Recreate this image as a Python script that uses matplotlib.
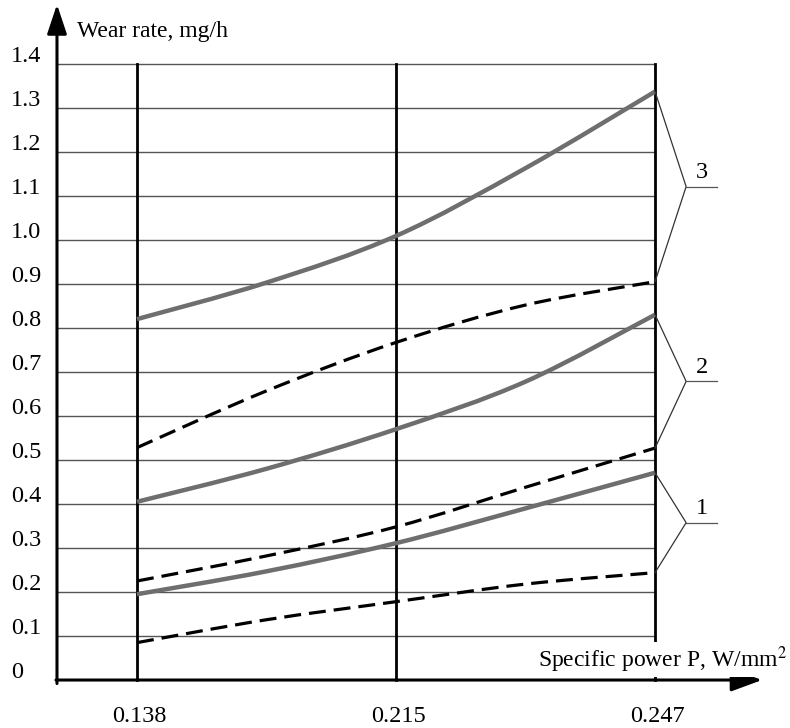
import matplotlib
matplotlib.use('Agg')
import matplotlib.pyplot as plt
from matplotlib.path import Path
from matplotlib.patches import PathPatch

plt.rcParams['font.family'] = ['Liberation Serif', 'DejaVu Serif']
plt.rcParams['mathtext.fontset'] = 'stix'

# x categories (equally spaced on the chart, not to scale)
p_labels = ['0.138', '0.215', '0.247']
pos = [0, 0.5, 1, 1.5, 2]

# wear rate, mg/h  (s = solid grey curve, d = dashed curve)
s3 = [0.82, 0.903, 1.009, 1.163, 1.337]
d3 = [0.528, 0.657, 0.767, 0.852, 0.905]
s2 = [0.405, 0.48, 0.57, 0.678, 0.83]
d2 = [0.225, 0.282, 0.348, 0.438, 0.527]
s1 = [0.195, 0.247, 0.311, 0.39, 0.471]
d1 = [0.085, 0.137, 0.178, 0.218, 0.244]

groups = [('1', s1, d1), ('2', s2, d2), ('3', s3, d3)]
y_ticks = [0.1 * i for i in range(15)]


def smooth_path(xs, ys):
    """bezier path going through every point (catmull-rom tangents)"""
    n = len(xs)
    tx, ty = [], []
    for i in range(n):
        a, b = max(i - 1, 0), min(i + 1, n - 1)
        k = 1.0 if (b - a) == 2 else 0.5
        tx.append((xs[b] - xs[a]) * k / 2 * (2 if b - a == 1 else 1))
        ty.append((ys[b] - ys[a]) * k / 2 * (2 if b - a == 1 else 1))
    verts = [(xs[0], ys[0])]
    codes = [Path.MOVETO]
    for i in range(n - 1):
        verts += [(xs[i] + tx[i] / 3, ys[i] + ty[i] / 3),
                  (xs[i + 1] - tx[i + 1] / 3, ys[i + 1] - ty[i + 1] / 3),
                  (xs[i + 1], ys[i + 1])]
        codes += [Path.CURVE4] * 3
    return Path(verts, codes)


fig = plt.figure(figsize=(7.9, 7.28), dpi=100)
ax = fig.add_axes([0, 0, 1, 1])
ax.set_xlim(-0.529, 2.521)
ax.set_ylim(-0.109, 1.545)
ax.axis('off')

x0 = -0.309  # where the y axis stands

# horizontal grid
for y in y_ticks[1:]:
    ax.plot([x0, 2], [y, y], color='#555555', lw=1.0, zorder=1)

# vertical lines at the three categories
for i in range(len(p_labels)):
    ax.plot([i, i], [0, 1.4], color='black', lw=2.0, zorder=2)

# curves
for name, s, d in groups:
    ax.add_patch(PathPatch(smooth_path(pos, s), fill=False, edgecolor='#6e6e6e',
                           lw=3.2, capstyle='butt', zorder=3))
    ax.add_patch(PathPatch(smooth_path(pos, d), fill=False, edgecolor='black',
                           lw=2.3, linestyle=(0, (5.3, 2.5)), zorder=3))

# leaders to curve numbers
for name, s, d in groups:
    vy = (s[-1] + d[-1]) / 2
    ax.plot([2, 2.12, 2], [s[-1], vy, d[-1]], color='#333333', lw=0.9, zorder=4)
    ax.plot([2.12, 2.24], [vy, vy], color='#555555', lw=0.9, zorder=4)
    ax.text(2.18, vy + 0.008, name, fontsize=17.5, ha='center', va='bottom')

# axes with arrows
ax.annotate('', xy=(x0, 1.535), xytext=(x0, -0.008),
            arrowprops=dict(arrowstyle='-|>,head_length=0.9,head_width=0.3',
                            lw=2.2, color='black', mutation_scale=20,
                            shrinkA=0, shrinkB=0), zorder=5)
ax.annotate('', xy=(2.413, 0), xytext=(x0 - 0.004, 0),
            arrowprops=dict(arrowstyle='-|>,head_length=0.95,head_width=0.35',
                            lw=2.2, color='black', mutation_scale=20,
                            shrinkA=0, shrinkB=0), zorder=5)

# tick labels
for y in y_ticks:
    lab = '0' if y == 0 else '%.1f' % y
    ax.text(-0.487, y + 0.016, lab, fontsize=17.5, ha='left', va='center')
for i, lab in enumerate(p_labels):
    ax.text(i + 0.01, -0.082, lab, fontsize=17.5, ha='center', va='center')

ax.text(-0.232, 1.473, 'Wear rate, mg/h', fontsize=17, ha='left', va='center')
ax.text(2.51, 0.03, 'Specific power P, W/mm$^2$', fontsize=17, ha='right',
        va='baseline', zorder=6,
        bbox=dict(facecolor='white', edgecolor='none', pad=1.5))

fig.savefig('out.png', dpi=100)
